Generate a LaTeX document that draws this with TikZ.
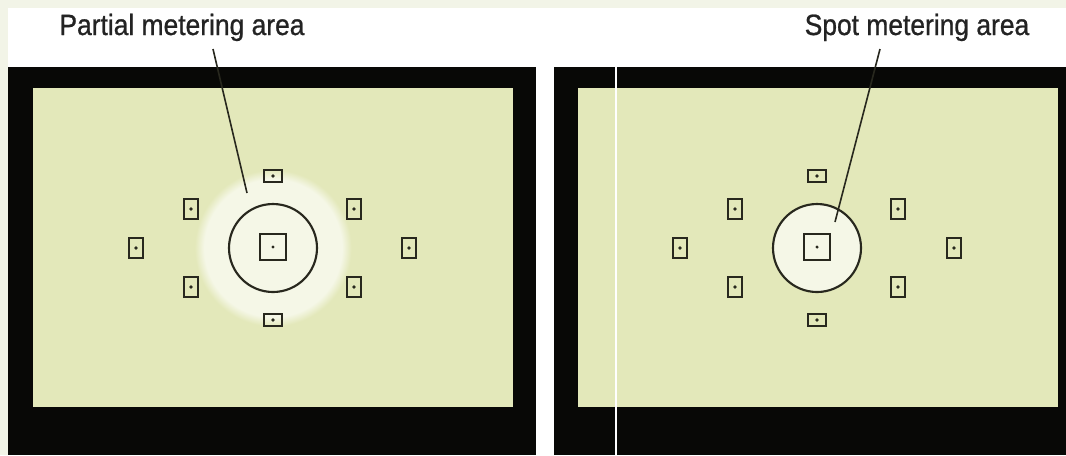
\documentclass[tikz,border=0pt]{standalone}
\usepackage{fontspec}
\newfontfamily\calloutfont{Liberation Sans}[FakeStretch=0.9, FakeBold=0.8]
\usetikzlibrary{positioning}

\definecolor{panelgreen}{RGB}{227,232,186}
\definecolor{glowgreen}{RGB}{245,247,231}
\definecolor{edgepale}{RGB}{242,244,231}
\definecolor{finder}{RGB}{8,8,6}
\definecolor{inkdark}{RGB}{40,40,30}
\definecolor{calloutink}{RGB}{35,35,35}
\pgfdeclareradialshading{partialglow}{\pgfpoint{0bp}{0bp}}{color(0bp)=(glowgreen); color(21.5bp)=(glowgreen); color(24.5bp)=(panelgreen); color(50bp)=(panelgreen)}

\begin{document}
\begin{tikzpicture}[
    x=0.75pt, y=-0.75pt,
    afh/.style={rectangle, draw=inkdark, line width=1.7pt, minimum width=14pt, minimum height=9.5pt, inner sep=0pt,
        path picture={\fill[inkdark] (path picture bounding box.center) circle (1.4pt);}},
    afv/.style={rectangle, draw=inkdark, line width=1.7pt, minimum width=10.3pt, minimum height=14.8pt, inner sep=0pt,
        path picture={\fill[inkdark] (path picture bounding box.center) circle (1.4pt);}},
    afc/.style={rectangle, draw=inkdark, line width=1.3pt, minimum size=19.8pt, inner sep=0pt,
        path picture={\fill[inkdark] (path picture bounding box.center) circle (1.3pt);}},
    ring/.style={circle, draw=inkdark, line width=1.6pt, minimum size=66pt, inner sep=0pt},
    callout/.style={font=\calloutfont\fontsize{22}{26}\selectfont, text=calloutink, inner sep=0pt},
    leader/.style={draw=inkdark, line width=1.2pt}
]
    \useasboundingbox (0,0) rectangle (1066,455);
    \fill[white] (0,0) rectangle (1066,455);
    \fill[edgepale] (0,0) rectangle (8,455);
    \fill[edgepale] (0,0) rectangle (1066,8);

    % viewfinders
    \fill[finder] (8,67) rectangle (536,455);
    \fill[finder] (554,67) rectangle (1066,455);
    \fill[panelgreen] (33,88) rectangle (513,407);
    \fill[panelgreen] (578,88) rectangle (1058,407);

    % partial metering (left)
    \shade[shading=partialglow] (273,248) circle (60pt);
    \node[ring] (pring) at (273,248) {};
    \node[afc] (pcentre) at (273,247) {};
    \node[afh] (ptop) at (273,176) {};
    \node[afh] (pbottom) at (273,320) {};
    \node[afv] (pupleft) at (191,209) {};
    \node[afv] (plowleft) at (191,287) {};
    \node[afv] (pupright) at (354,209) {};
    \node[afv] (plowright) at (354,287) {};
    \node[afv] (pfarleft) at (136,248) {};
    \node[afv] (pfarright) at (409,248) {};

    % spot metering (right)
    \node[ring, fill=glowgreen] (sring) at (817,248) {};
    \node[afc] (scentre) at (817,247) {};
    \node[afh] (stop) at (817,176) {};
    \node[afh] (sbottom) at (817,320) {};
    \node[afv] (supleft) at (735,209) {};
    \node[afv] (slowleft) at (735,287) {};
    \node[afv] (supright) at (898,209) {};
    \node[afv] (slowright) at (898,287) {};
    \node[afv] (sfarleft) at (680,248) {};
    \node[afv] (sfarright) at (954,248) {};

    % scan artefact
    \draw[white, line width=0.8pt] (616,67) -- (616,455);

    % callouts
    \node[callout, anchor=base] (partiallabel) at (182,35) {Partial metering area};
    \node[callout, anchor=base] (spotlabel) at (917,35) {Spot metering area};
    \coordinate (partialfoot) at (213,49);
    \coordinate (partialtip) at (247,193);
    \coordinate (spotfoot) at (880,49);
    \coordinate (spottip) at (835,222);
    \draw[leader] (partialfoot) -- (partialtip);
    \draw[leader] (spotfoot) -- (spottip);
\end{tikzpicture}
\end{document}
